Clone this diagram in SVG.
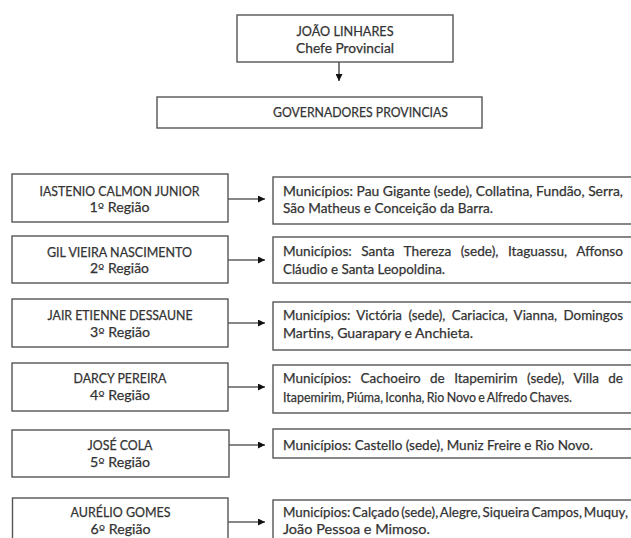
<svg xmlns="http://www.w3.org/2000/svg" width="631" height="538" viewBox="0 0 631 538">
<defs>
<style>
.box{fill:#fff;stroke:#555;stroke-width:1.4}
.t{font-family:Lato,"Open Sans","Liberation Sans",sans-serif;font-size:13.5px;fill:#333;stroke:#333;stroke-width:0.25}
.c{text-anchor:middle}
.o{font-family:"DejaVu Sans","Open Sans",sans-serif;font-size:13px;stroke-width:0.1}
.con line{stroke:#111;stroke-width:1.1}
</style>
<marker id="ah" viewBox="0 0 10 10" refX="10" refY="5" markerWidth="7" markerHeight="7" markerUnits="userSpaceOnUse" orient="auto">
<path d="M0,0 L10,5 L0,10 z" fill="#111"/>
</marker>
</defs>
<rect width="631" height="538" fill="#fff"/>

<g class="con">
<line x1="339" y1="62" x2="339" y2="81" marker-end="url(#ah)"/>
<line x1="228" y1="199" x2="265" y2="199" marker-end="url(#ah)"/>
<line x1="228" y1="260" x2="265" y2="260" marker-end="url(#ah)"/>
<line x1="228" y1="323" x2="265" y2="323" marker-end="url(#ah)"/>
<line x1="228" y1="387" x2="265" y2="387" marker-end="url(#ah)"/>
<line x1="229" y1="445" x2="265" y2="445" marker-end="url(#ah)"/>
<line x1="228" y1="522" x2="265" y2="522" marker-end="url(#ah)"/>
</g>

<g id="chefe">
<rect class="box" x="237" y="15" width="216" height="47"/>
<text class="t c" x="345" y="36" textLength="97" lengthAdjust="spacingAndGlyphs">JOÃO LINHARES</text>
<text class="t c" x="345" y="53" textLength="98" lengthAdjust="spacingAndGlyphs">Chefe Provincial</text>
</g>

<g id="governadores">
<rect class="box" x="157" y="97" width="325" height="31"/>
<text class="t c" x="360.5" y="117" textLength="175" lengthAdjust="spacingAndGlyphs">GOVERNADORES PROVINCIAS</text>
</g>

<g id="reg1">
<rect class="box" x="12" y="174" width="216" height="48"/>
<text class="t c" x="119.5" y="196" textLength="160" lengthAdjust="spacingAndGlyphs">IASTENIO CALMON JUNIOR</text>
<text class="t c" x="119.5" y="212" textLength="60" lengthAdjust="spacingAndGlyphs">1<tspan class="o">º</tspan> Região</text>
</g>
<g id="mun1">
<rect class="box" x="273" y="177" width="370" height="47"/>
<text class="t" x="283" y="196" textLength="340" lengthAdjust="spacingAndGlyphs">Municípios: Pau Gigante (sede), Collatina, Fundão, Serra,</text>
<text class="t" x="283" y="213" textLength="210" lengthAdjust="spacingAndGlyphs">São Matheus e Conceição da Barra.</text>
</g>

<g id="reg2">
<rect class="box" x="12" y="236" width="216" height="47"/>
<text class="t c" x="119.5" y="256.5" textLength="145" lengthAdjust="spacingAndGlyphs">GIL VIEIRA NASCIMENTO</text>
<text class="t c" x="119.5" y="273" textLength="59" lengthAdjust="spacingAndGlyphs">2<tspan class="o">º</tspan> Região</text>
</g>
<g id="mun2">
<rect class="box" x="273" y="237" width="370" height="46"/>
<text class="t" x="283" y="255.5" textLength="340" lengthAdjust="spacingAndGlyphs" word-spacing="6">Municípios: Santa Thereza (sede), Itaguassu, Affonso</text>
<text class="t" x="283" y="273.5" textLength="162" lengthAdjust="spacingAndGlyphs">Cláudio e Santa Leopoldina.</text>
</g>

<g id="reg3">
<rect class="box" x="12" y="299" width="216" height="48"/>
<text class="t c" x="120" y="320" textLength="145" lengthAdjust="spacingAndGlyphs">JAIR ETIENNE DESSAUNE</text>
<text class="t c" x="120" y="337" textLength="60" lengthAdjust="spacingAndGlyphs">3<tspan class="o">º</tspan> Região</text>
</g>
<g id="mun3">
<rect class="box" x="273" y="302" width="370" height="48"/>
<text class="t" x="283" y="320" textLength="340" lengthAdjust="spacingAndGlyphs" word-spacing="3">Municípios: Victória (sede), Cariacica, Vianna, Domingos</text>
<text class="t" x="283" y="337.5" textLength="190" lengthAdjust="spacingAndGlyphs">Martins, Guarapary e Anchieta.</text>
</g>

<g id="reg4">
<rect class="box" x="12" y="363" width="216" height="48"/>
<text class="t c" x="120" y="383" textLength="93" lengthAdjust="spacingAndGlyphs">DARCY PEREIRA</text>
<text class="t c" x="120" y="400" textLength="60" lengthAdjust="spacingAndGlyphs">4<tspan class="o">º</tspan> Região</text>
</g>
<g id="mun4">
<rect class="box" x="273" y="365" width="370" height="48"/>
<text class="t" x="283" y="383" textLength="340" lengthAdjust="spacingAndGlyphs" word-spacing="6">Municípios: Cachoeiro de Itapemirim (sede), Villa de</text>
<text class="t" x="283" y="401.5" textLength="289" lengthAdjust="spacingAndGlyphs" word-spacing="-1">Itapemirim, Piúma, Iconha, Rio Novo e Alfredo Chaves.</text>
</g>

<g id="reg5">
<rect class="box" x="12" y="430" width="217" height="47"/>
<text class="t c" x="120" y="449.5" textLength="65" lengthAdjust="spacingAndGlyphs">JOSÉ COLA</text>
<text class="t c" x="120" y="466.5" textLength="60" lengthAdjust="spacingAndGlyphs">5<tspan class="o">º</tspan> Região</text>
</g>
<g id="mun5">
<rect class="box" x="273" y="429" width="370" height="29"/>
<text class="t" x="283" y="450" textLength="310" lengthAdjust="spacingAndGlyphs">Municípios: Castello (sede), Muniz Freire e Rio Novo.</text>
</g>

<g id="reg6">
<rect class="box" x="12.5" y="498" width="215.5" height="60"/>
<text class="t c" x="120.5" y="517" textLength="100" lengthAdjust="spacingAndGlyphs">AURÉLIO GOMES</text>
<text class="t c" x="120.5" y="533.5" textLength="60" lengthAdjust="spacingAndGlyphs">6<tspan class="o">º</tspan> Região</text>
</g>
<g id="mun6">
<rect class="box" x="273" y="500" width="370" height="60"/>
<text class="t" x="283" y="517" textLength="345" lengthAdjust="spacingAndGlyphs" word-spacing="-1.5">Municípios: Calçado (sede), Alegre, Siqueira Campos, Muquy,</text>
<text class="t" x="283" y="533.5" textLength="147" lengthAdjust="spacingAndGlyphs">João Pessoa e Mimoso.</text>
</g>
</svg>
